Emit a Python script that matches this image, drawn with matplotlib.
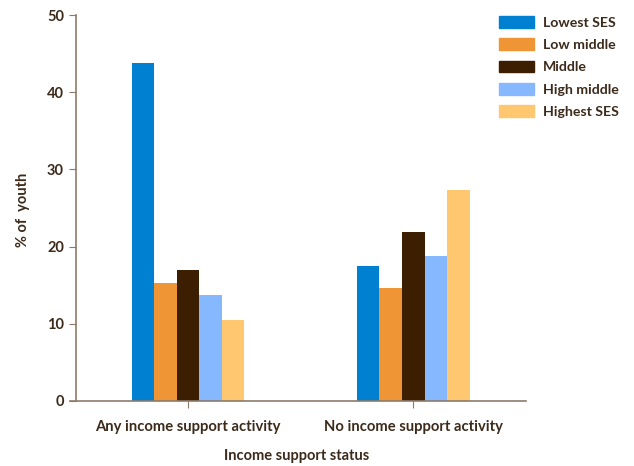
import numpy as np
import matplotlib.pyplot as plt
from matplotlib.patches import Patch

plt.rcParams['font.family'] = ['Lato', 'DejaVu Sans']
plt.rcParams['font.weight'] = 'bold'

text_col = '#3c2a1a'
spine_col = '#8c7b6b'

groups = ['Any income support activity', 'No income support activity']
series = ['Lowest SES', 'Low middle', 'Middle', 'High middle', 'Highest SES']
colors = ['#0080d0', '#f09535', '#3c1e00', '#85b8ff', '#ffc870']
values = {
    'Lowest SES':  [43.8, 17.5],
    'Low middle':  [15.3, 14.6],
    'Middle':      [17.0, 21.9],
    'High middle': [13.7, 18.8],
    'Highest SES': [10.5, 27.3],
}

fig = plt.figure(figsize=(6.34, 4.66), dpi=100)
ax = fig.add_axes([70/634, 65/466, 456/634, 386/466])

x = np.arange(len(groups))
w = 0.1
for i, (name, col) in enumerate(zip(series, colors)):
    ax.bar(x + (i - 2) * w, values[name], w, color=col, label=name)

ax.set_xlim(-0.523, 1.5)
ax.set_ylim(0, 50)
ax.spines['left'].set_position(('data', -0.497))
ax.set_yticks([0, 10, 20, 30, 40, 50])
ax.set_xticks(x)
ax.set_xticklabels(groups, fontsize=10.6)
ax.tick_params(colors=spine_col, labelcolor=text_col, length=5)
ax.tick_params(axis='y', labelsize=10.5)
ax.tick_params(axis='x', pad=9)
for s in ['top', 'right']:
    ax.spines[s].set_visible(False)
for s in ['left', 'bottom']:
    ax.spines[s].set_color(spine_col)
    ax.spines[s].set_linewidth(1.2)

fig.text(23/634, 1 - 210/466, '% of  youth', color=text_col, fontsize=10.5,
         fontweight='bold', rotation=90, ha='center', va='center')
fig.text(297/634, 1 - 456/466, 'Income support status', color=text_col,
         fontsize=10.5, fontweight='bold', ha='center', va='center')

handles = [Patch(color=c, label=n) for n, c in zip(series, colors)]
fig.legend(handles=handles, loc='upper left', bbox_to_anchor=(486/634, 1 - 3/466),
           frameon=False, fontsize=10.2, labelcolor=text_col, handlelength=2.5,
           handleheight=0.9, labelspacing=0.68, handletextpad=0.6)

fig.savefig('out.png')
